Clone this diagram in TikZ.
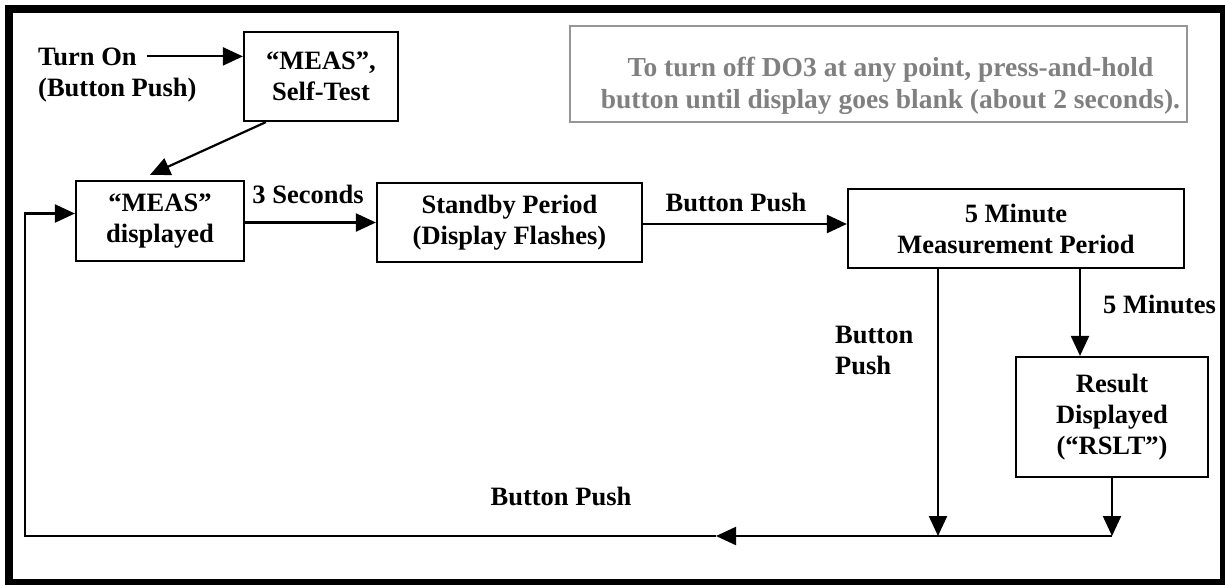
\documentclass[tikz,border=0pt]{standalone}
\usepackage{fontspec}
\setmainfont{Liberation Serif}
\usetikzlibrary{arrows.meta}
\definecolor{notegray}{RGB}{128,128,128}
\definecolor{noteline}{RGB}{150,150,150}

\begin{document}
\begin{tikzpicture}[x=1pt, y=-1pt,
    statebox/.style={draw, line width=2.2pt, align=center, inner sep=0pt,
      font=\fontsize{26.5}{31}\selectfont\bfseries},
    lbl/.style={inner sep=0pt, font=\fontsize{26.5}{31}\selectfont\bfseries},
    arr/.style={line width=2.2pt, -{Triangle[length=20pt,width=18pt]}}]
  \useasboundingbox (0,0) rectangle (1225,584);
  \draw[line width=8pt] (9,9) rectangle (1224,583);

  \node[statebox, minimum width=154pt, minimum height=89pt] (selftest) at (321,76.5) {“MEAS”,\\Self-Test};
  \node[statebox, minimum width=168pt, minimum height=80pt] (meas) at (160,221) {“MEAS”\\displayed};
  \node[statebox, minimum width=265pt, minimum height=79pt] (standby) at (509.5,222.5) {Standby Period\\(Display Flashes)};
  \node[statebox, minimum width=336pt, minimum height=79pt] (measure) at (1016,228.5) {5 Minute\\Measurement Period};
  \node[statebox, minimum width=192pt, minimum height=120pt] (result) at (1112,417) {Result\\Displayed\\(“RSLT”)};
  \node[draw=noteline, line width=1.6pt, minimum width=617pt, minimum height=96pt] (note) at (878.5,74) {};
  \node[lbl, align=center, text=notegray, font=\fontsize{27.5}{32}\selectfont\bfseries] (notetext) at ([xshift=12pt,yshift=-12pt]note.center) {To turn off DO3 at any point, press-and-hold\\button until display goes blank (about 2 seconds).};

  \node[lbl, anchor=base west] (turnon) at (38,65) {Turn On};
  \node[lbl, anchor=base west] (pushon) at (38,96) {(Button Push)};
  \node[lbl, anchor=base] (threesec) at (308,203) {3 Seconds};
  \node[lbl, anchor=base] (pushtop) at (736,211) {Button Push};
  \node[lbl, anchor=north west, align=left] (pushmid) at (835,326) {Button\\Push};
  \node[lbl, anchor=base west] (fivemin) at (1103,313) {5 Minutes};
  \node[lbl, anchor=base] (pushbot) at (561,505) {Button Push};

  \coordinate (base) at (25,536);
  \coordinate (midtip) at (716,536);

  \draw[arr] ([xshift=10pt]turnon.east) -- (selftest.west |- turnon.east);
  \draw[arr] ([xshift=23pt]selftest.south west) -- ([xshift=-10pt,yshift=5pt]meas.north);
  \draw[arr] (meas.east |- standby) -- (standby.west);
  \draw[arr] ([yshift=-1.5pt]standby.east) coordinate (s1) -- (s1 -| measure.west);
  \draw[arr] ([xshift=-78pt]measure.south) -- ([xshift=-78pt]measure.south |- base);
  \draw[arr] ([xshift=64pt]measure.south) -- ([xshift=64pt]measure.south |- result.north);
  \draw[arr] (result.south) -- (result.south |- base);
  \draw[arr] (result.south |- base) -- (midtip);
  \draw[arr] (midtip) -- (base) |- ([yshift=7.5pt]meas.west);
\end{tikzpicture}
\end{document}
